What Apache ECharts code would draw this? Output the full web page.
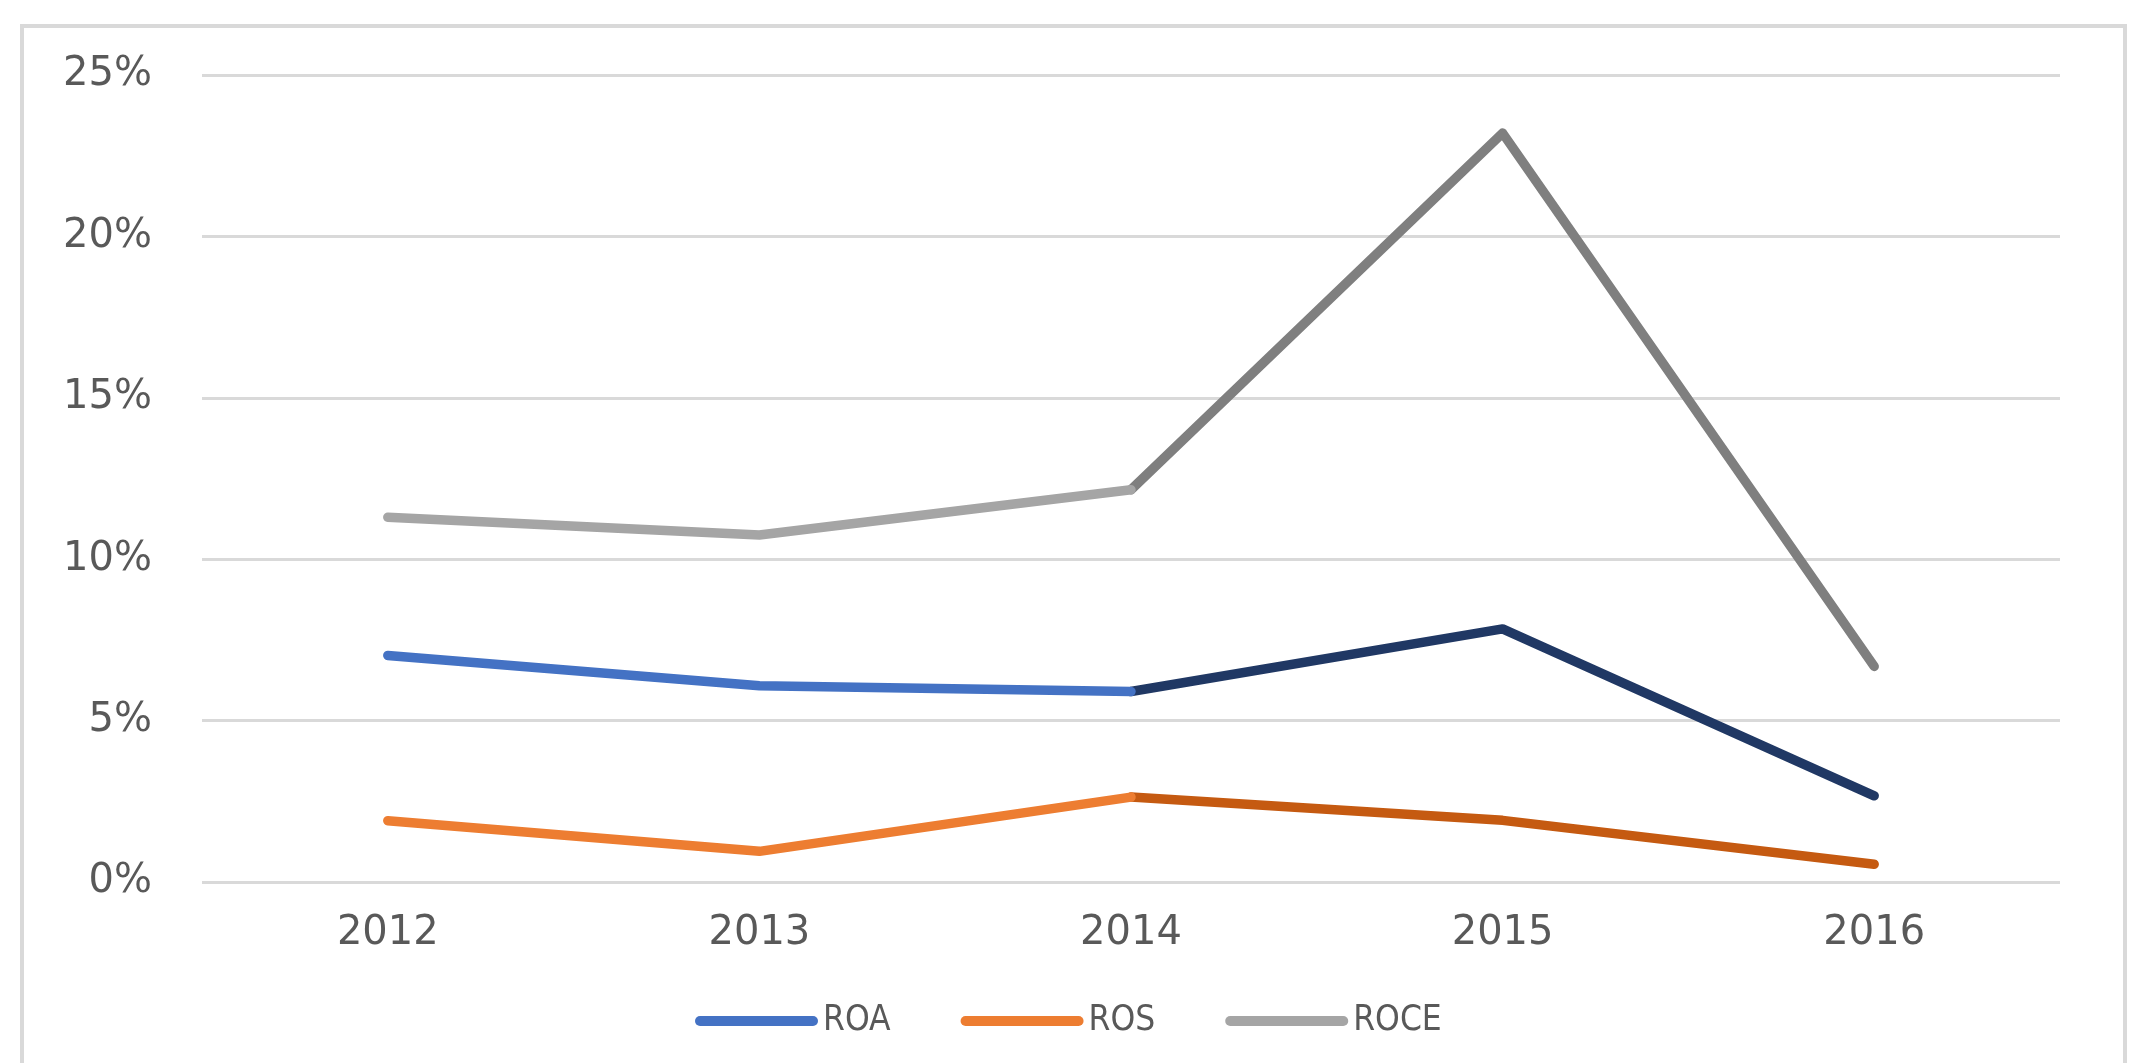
<!DOCTYPE html>
<html>
<head>
<meta charset="utf-8">
<script src="https://cdn.jsdelivr.net/npm/echarts@6/dist/echarts.min.js"></script>
<style>
html,body{margin:0;padding:0;background:#fff;}
#chart{width:2139px;height:1063px;}
</style>
</head>
<body>
<div id="chart"></div>
<script>
// ---- data ----
var categories = ['2012', '2013', '2014', '2015', '2016'];
var roa  = [7.02, 6.08, 5.90, 7.84, 2.67];
var ros  = [1.90, 0.95, 2.63, 1.91, 0.55];
var roce = [11.30, 10.75, 12.15, 23.20, 6.68];
var seriesNames = ['ROA', 'ROS', 'ROCE'];
var yTicks = [0, 5, 10, 15, 20, 25];
var splitIndex = 2; // colour of each line changes at 2014

var lightColors = ['#4472C4', '#ED7D31', '#A5A5A5'];
var darkColors  = ['#203864', '#C55A11', '#7F7F7F'];
var values = [roa, ros, roce];

var chart = echarts.init(document.getElementById('chart'), null, {renderer: 'canvas'});

var labelFont = "'DejaVu Sans', sans-serif";
var legendFont = "'Liberation Sans Narrow', 'DejaVu Sans Condensed', sans-serif";

var series = [];
seriesNames.forEach(function (n, i) {
  var first = values[i].map(function (v, j) { return j <= splitIndex ? v : null; });
  var second = values[i].map(function (v, j) { return j >= splitIndex ? v : null; });
  series.push({
    name: n, type: 'line', data: second, symbol: 'none', connectNulls: false,
    color: lightColors[i],
    lineStyle: {width: 9.5, color: darkColors[i], cap: 'round', join: 'round'},
    z: 2 + i * 2
  });
  series.push({
    name: n, type: 'line', data: first, symbol: 'none', connectNulls: false,
    color: lightColors[i],
    lineStyle: {width: 9.5, color: lightColors[i], cap: 'round', join: 'round'},
    z: 3 + i * 2
  });
});

var iconPath = 'path://M5,0 L118,0 A5,5 0 0 1 118,10 L5,10 A5,5 0 0 1 5,0 Z';

var option = {
  backgroundColor: '#ffffff',
  animation: false,
  graphic: [{
    type: 'rect',
    shape: {x: 22, y: 26, width: 2103, height: 1100},
    style: {fill: 'none', stroke: '#D9D9D9', lineWidth: 4},
    silent: true,
    z: -1
  }],
  grid: {left: 202, right: 79, top: 75, bottom: 181, containLabel: false},
  legend: {
    left: 690,
    top: 996,
    itemWidth: 123,
    itemHeight: 10,
    itemGap: 70,
    icon: iconPath,
    textStyle: {fontFamily: legendFont, fontSize: 35, color: '#595959', lineHeight: 40},
    data: seriesNames.map(function (n, i) {
      return {name: n, itemStyle: {color: lightColors[i]}};
    })
  },
  xAxis: {
    type: 'category',
    data: categories,
    boundaryGap: true,
    axisLine: {show: false},
    axisTick: {show: false},
    axisLabel: {fontFamily: labelFont, fontSize: 40, color: '#595959', margin: 32}
  },
  yAxis: {
    type: 'value',
    min: yTicks[0],
    max: yTicks[yTicks.length - 1],
    interval: yTicks[1] - yTicks[0],
    axisLine: {show: false},
    axisTick: {show: false},
    splitLine: {lineStyle: {color: '#D9D9D9', width: 3}},
    axisLabel: {fontFamily: labelFont, fontSize: 40, color: '#595959', margin: 50,
      formatter: function (v) { return v + '%'; }}
  },
  series: series
};
chart.setOption(option);
</script>
</body>
</html>
